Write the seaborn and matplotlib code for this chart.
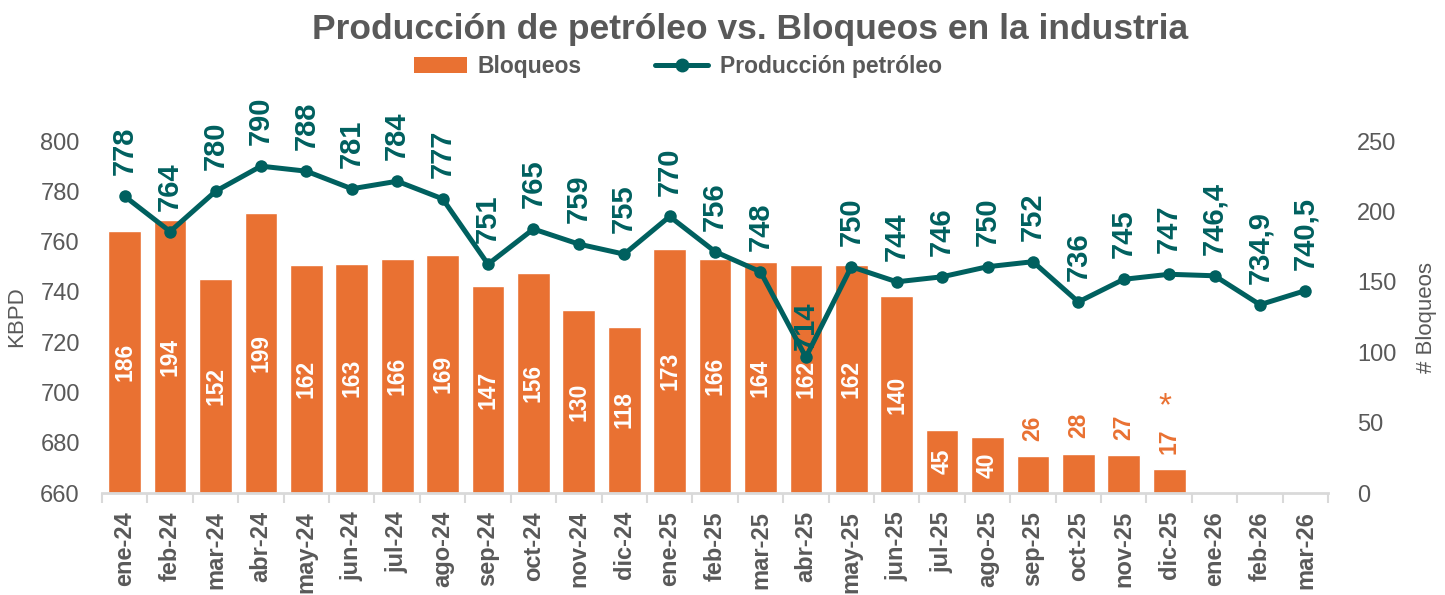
import numpy as np
import pandas as pd
import matplotlib
matplotlib.use("Agg")
import matplotlib.pyplot as plt
import seaborn as sns
from matplotlib.lines import Line2D
from matplotlib.patches import Patch

months = ["ene-24", "feb-24", "mar-24", "abr-24", "may-24", "jun-24", "jul-24", "ago-24",
          "sep-24", "oct-24", "nov-24", "dic-24", "ene-25", "feb-25", "mar-25", "abr-25",
          "may-25", "jun-25", "jul-25", "ago-25", "sep-25", "oct-25", "nov-25", "dic-25",
          "ene-26", "feb-26", "mar-26"]
bloqueos = [186, 194, 152, 199, 162, 163, 166, 169, 147, 156, 130, 118, 173, 166, 164, 162,
            162, 140, 45, 40, 26, 28, 27, 17]
produccion = [778, 764, 780, 790, 788, 781, 784, 777, 751, 765, 759, 755, 770, 756, 748, 714,
              750, 744, 746, 750, 752, 736, 745, 747, 746.4, 734.9, 740.5]
prod_labels = ["778", "764", "780", "790", "788", "781", "784", "777", "751", "765", "759", "755",
               "770", "756", "748", "714", "750", "744", "746", "750", "752", "736", "745", "747",
               "746,4", "734,9", "740,5"]
bloq_labels = [str(v) for v in bloqueos]

ORANGE = "#E97132"
TEAL = "#00605F"
GRAY = "#595959"
LGRAY = "#D9D9D9"

sns.set_theme(style="white")
plt.rcParams["font.family"] = ["Liberation Sans", "DejaVu Sans"]

fig = plt.figure(figsize=(14.45, 5.95), dpi=100)
ax = fig.add_axes([0.0706, 0.1714, 0.8485, 0.5916])

df_b = pd.DataFrame({"mes": months[:len(bloqueos)], "bloqueos": bloqueos})
sns.barplot(data=df_b, x="mes", y="bloqueos", order=months, color=ORANGE, saturation=1,
            width=0.72, ax=ax)

# line on twin axis (drawn above bars)
ax2 = ax.twinx()
df_p = pd.DataFrame({"x": np.arange(len(months)), "prod": produccion})
sns.lineplot(data=df_p, x="x", y="prod", color=TEAL, linewidth=3.6, marker="o",
             markersize=9, markeredgewidth=0, ax=ax2)

# bar axis -> right side
ax.set_xlim(-0.5, len(months) - 0.5)
ax.set_ylim(0, 250)
ax.set_yticks(np.arange(0, 251, 50))
ax.yaxis.tick_right()
ax.yaxis.set_label_position("right")
ax.set_ylabel("# Bloqueos", color=GRAY, fontsize=16)
ax.yaxis.set_label_coords(1.072, 0.5)
ax.set_xlabel("")
ax.tick_params(axis="y", length=0, pad=21, labelsize=17, labelcolor=GRAY,
               right=True, left=False, labelright=True, labelleft=False)
ax.tick_params(axis="x", which="major", length=0, pad=13, labelsize=17, labelcolor=GRAY,
               labelrotation=90)
for lbl in ax.get_xticklabels():
    lbl.set_fontweight("bold")
ax.set_xticks(np.arange(-0.5, len(months), 1), minor=True)
ax.tick_params(axis="x", which="minor", length=7, width=1.5, color=LGRAY, bottom=True)
for s in ["top", "left", "right"]:
    ax.spines[s].set_visible(False)
ax.spines["bottom"].set_color(LGRAY)
ax.spines["bottom"].set_linewidth(2)

# line axis -> left side
ax2.set_ylim(660, 800)
ax2.set_yticks(np.arange(660, 801, 20))
ax2.yaxis.tick_left()
ax2.yaxis.set_label_position("left")
ax2.set_ylabel("KBPD", color=GRAY, fontsize=16)
ax2.yaxis.set_label_coords(-0.061, 0.5)
ax2.set_xlabel("")
ax2.tick_params(axis="y", length=0, pad=16, labelsize=17, labelcolor=GRAY,
                left=True, right=False, labelleft=True, labelright=False)
for s in ["top", "left", "right", "bottom"]:
    ax2.spines[s].set_visible(False)
ax2.set_xlim(-0.5, len(months) - 0.5)

# bar labels
for i, v in enumerate(bloqueos):
    if v >= 40:
        ax.text(i, v / 2, bloq_labels[i], rotation=90, ha="center", va="center",
                color="white", fontsize=16.5, fontweight="bold")
    else:
        ax.annotate(bloq_labels[i], (i, v), xytext=(0, 11), textcoords="offset points",
                    rotation=90, ha="center", va="bottom", color=ORANGE, fontsize=16.5,
                    fontweight="bold")
ax.annotate("*", (len(bloqueos) - 1, bloqueos[-1]), xytext=(-3, 34), textcoords="offset points",
            ha="center", va="bottom", color=ORANGE, fontsize=24)

for i, v in enumerate(produccion):
    off = 5 if prod_labels[i] == "714" else 15
    ax2.annotate(prod_labels[i], (i, v), xytext=(0, off), textcoords="offset points",
                 rotation=90, ha="center", va="bottom", color=TEAL, fontsize=21,
                 fontweight="bold", annotation_clip=False)

fig.suptitle("Producción de petróleo vs. Bloqueos en la industria", x=0.519, y=0.978,
             fontsize=25.5, fontweight="bold", color=GRAY, va="top")

handles = [Patch(facecolor=ORANGE, edgecolor="none"),
           Line2D([0], [0], color=TEAL, linewidth=3.6, marker="o", markersize=9)]
fig.legend(handles, ["Bloqueos", "Producción petróleo"], loc="center", ncol=2,
           bbox_to_anchor=(0.469, 0.889), frameon=False, prop={"size": 16.5, "weight": "bold"},
           labelcolor=GRAY, handlelength=2.3, columnspacing=3.2, handletextpad=0.5)

fig.savefig("out.png", dpi=100)
